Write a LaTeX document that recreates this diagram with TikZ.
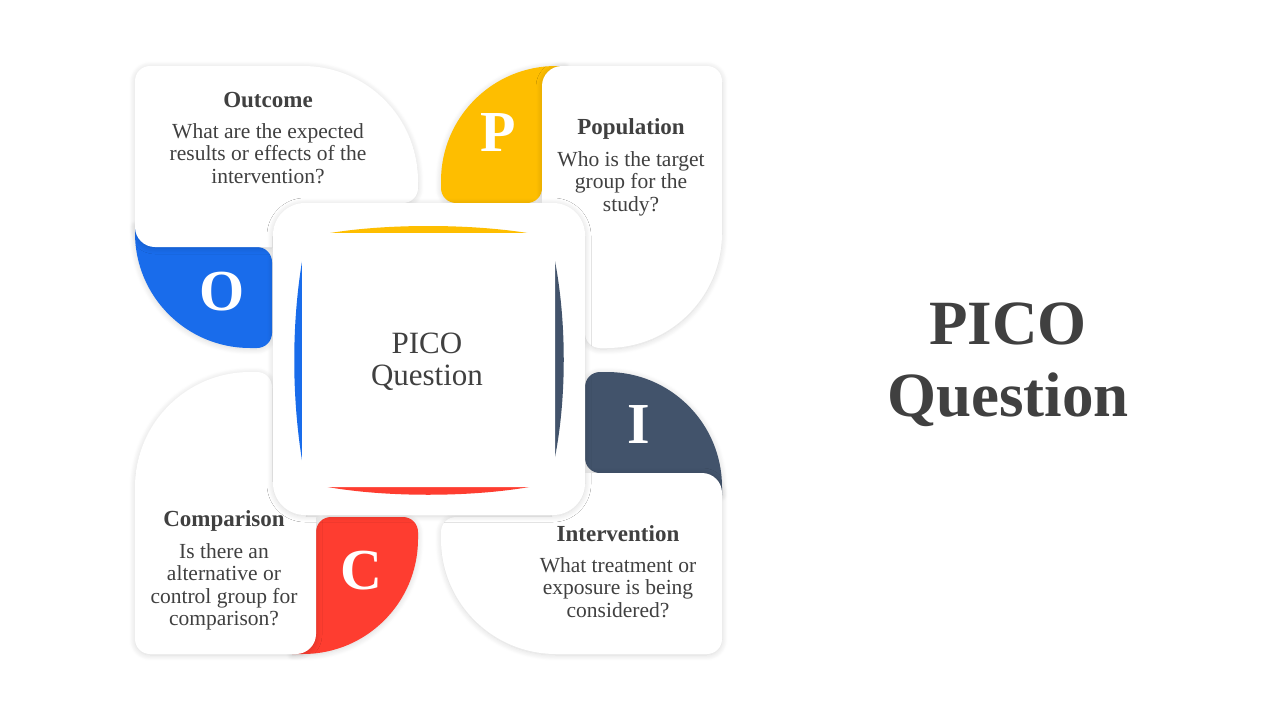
\documentclass[tikz,border=0pt]{standalone}
\usepackage{fontspec}
\setmainfont{Liberation Serif}
\usetikzlibrary{positioning,shadows.blur}

\definecolor{pblue}{HTML}{196CEB}
\definecolor{pyellow}{HTML}{FEBE00}
\definecolor{pslate}{HTML}{42536B}
\definecolor{pred}{HTML}{FE3D30}
\definecolor{txt}{HTML}{404040}

\begin{document}
\begin{tikzpicture}[x=1pt, y=1pt, node distance=53.5pt,
  soft/.style={blur shadow={shadow xshift=0pt, shadow yshift=-1pt, shadow blur radius=6pt, shadow opacity=16, shadow blur steps=16}},
  head/.style={font=\bfseries\fontsize{23}{26}\selectfont, text=txt, inner sep=0pt},
  body/.style={font=\fontsize{21.5}{22.5}\selectfont, text=txt, align=center, inner sep=0pt},
  letter/.style={font=\bfseries\fontsize{58}{60}\selectfont, text=white, inner sep=0pt}]
  \useasboundingbox (0,0) rectangle (1280,-720);

  % O panel (top left)
  \fill[pblue, soft] (135,-225) -- (200,-225) -- (200,-247) -- (257,-247) arc[start angle=90, end angle=0, radius=15pt] -- (272,-333) arc[start angle=0, end angle=-90, radius=15pt] -- (250,-348) arc[start angle=-90, end angle=-180, radius=115pt] -- cycle;
  \fill[white, soft] (135,-81) arc[start angle=180, end angle=90, radius=15pt] -- (303,-66) arc[start angle=90, end angle=0, radius=115pt] -- (418,-188) arc[start angle=0, end angle=-90, radius=15pt] -- (306,-203) -- (306,-236) -- (272,-236) -- (272,-247) -- (155,-247) arc[start angle=-90, end angle=-180, radius=20pt] -- cycle;

  % P panel (top right)
  \fill[pyellow, soft] (441,-181) arc[start angle=180, end angle=90, radius=115pt] -- (565,-66) -- (565,-130) -- (542,-130) -- (542,-188) arc[start angle=0, end angle=-90, radius=15pt] -- (456,-203) arc[start angle=-90, end angle=-180, radius=15pt] -- cycle;
  \fill[white, soft] (542,-86) arc[start angle=180, end angle=90, radius=20pt] -- (707,-66) arc[start angle=90, end angle=0, radius=15pt] -- (722,-233) arc[start angle=0, end angle=-90, radius=115pt] -- (600,-348) arc[start angle=-90, end angle=-180, radius=15pt] -- (585,-237) -- (552,-237) -- (552,-203) -- (542,-203) -- cycle;

  % I panel (bottom right)
  \fill[pslate, soft] (600,-372) -- (607,-372) arc[start angle=90, end angle=0, radius=115pt] -- (722,-495) -- (660,-495) -- (660,-473) -- (600,-473) arc[start angle=-90, end angle=-180, radius=15pt] -- (585,-387) arc[start angle=180, end angle=90, radius=15pt] -- cycle;
  \fill[white, soft] (585,-473) -- (702,-473) arc[start angle=90, end angle=0, radius=20pt] -- (722,-639) arc[start angle=0, end angle=-90, radius=15pt] -- (556,-654) arc[start angle=-90, end angle=-180, radius=115pt] -- (441,-532) arc[start angle=180, end angle=90, radius=15pt] -- (552,-517) -- (552,-482) -- (585,-482) -- cycle;

  % C panel (bottom left)
  \fill[pred, soft] (316,-532) arc[start angle=180, end angle=90, radius=15pt] -- (403,-517) arc[start angle=90, end angle=0, radius=15pt] -- (418,-539) arc[start angle=0, end angle=-90, radius=115pt] -- (292,-654) -- (292,-590) -- (316,-590) -- cycle;
  \fill[white, soft] (135,-487) arc[start angle=180, end angle=90, radius=115pt] -- (257,-372) arc[start angle=90, end angle=0, radius=15pt] -- (272,-482) -- (306,-482) -- (306,-517) -- (316,-517) -- (316,-634) arc[start angle=0, end angle=-90, radius=20pt] -- (150,-654) arc[start angle=-90, end angle=-180, radius=15pt] -- cycle;

  % centre
  \fill[white, soft, rounded corners=32pt] (273,-203) rectangle (585,-515);
  \fill[pyellow] (319,-235) .. controls (380,-223) and (476,-223) .. (539,-235) -- cycle;
  \fill[pslate] (554,-256) .. controls (567,-320) and (567,-400) .. (554,-462) -- cycle;
  \fill[pred] (317,-485) .. controls (380,-498) and (476,-498) .. (540,-485) -- cycle;
  \fill[pblue] (304,-250) .. controls (291,-320) and (291,-400) .. (304,-472) -- cycle;
  \fill[white, rounded corners=8pt] (302,-233) rectangle (555,-487);

  \node[letter] (lo) at (222,-292) {O};
  \node[letter] (lp) at (498,-133) {P};
  \node[letter] (li) at (639,-425) {I};
  \node[letter] (lc) at (361,-571) {C};

  \node[head] (outcome) at (268,-100) {Outcome};
  \node[body, below of=outcome] (outcometxt) {What are the expected\\results or effects of the\\intervention?};
  \node[head] (population) at (631,-129) {Population};
  \node[body, below of=population, node distance=54.5pt] (populationtxt) {Who is the target\\group for the\\study?};
  \node[head] (intervention) at (618,-534) {Intervention};
  \node[body, below of=intervention] (interventiontxt) {What treatment or\\exposure is being\\considered?};
  \node[head] (comparison) at (224,-521) {Comparison};
  \node[body, below of=comparison, node distance=66pt] (comparisontxt) {Is there an\\alternative or\\control group for\\comparison?};

  \node[font=\fontsize{31}{32}\selectfont, text=txt, align=center] (pico) at (427,-362) {PICO\\Question};
  \node[font=\bfseries\fontsize{63}{72}\selectfont, text=txt, align=center] (title) at (1008,-365) {PICO\\Question};
\end{tikzpicture}
\end{document}
